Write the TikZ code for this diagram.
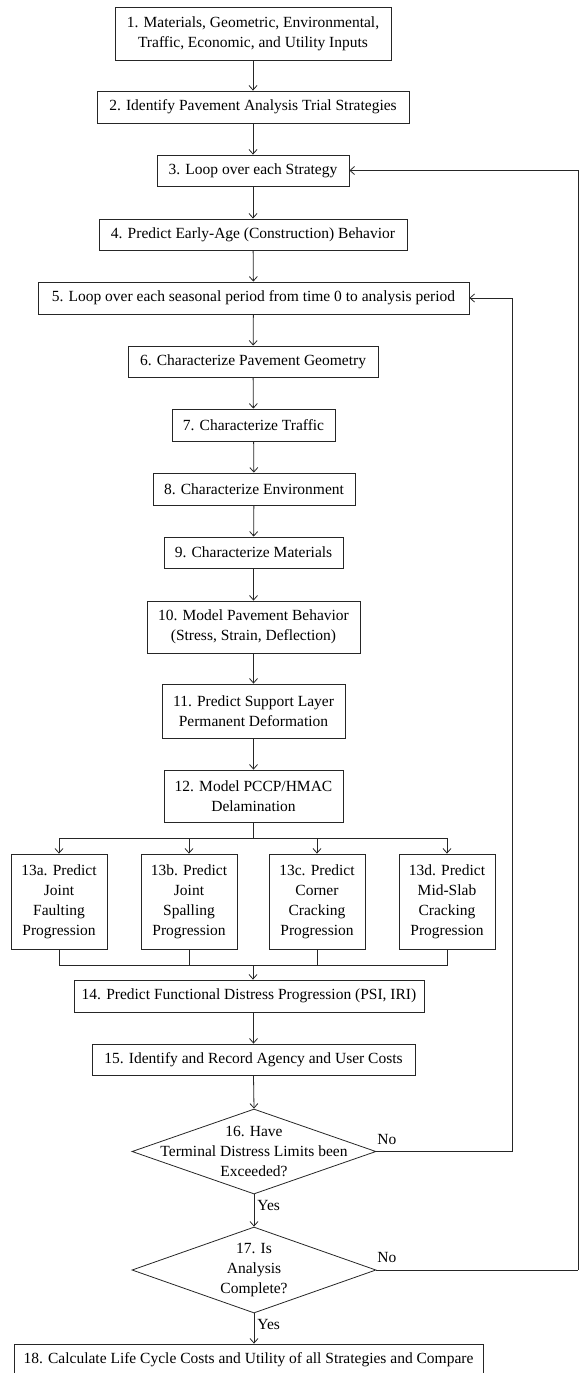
\documentclass[tikz,border=0pt]{standalone}
\usepackage{fontspec}
\setmainfont{Liberation Serif}
\usetikzlibrary{arrows.meta,shapes.geometric}
\begin{document}
\begin{tikzpicture}[x=1pt,y=-1pt,
  font=\fontsize{15.5}{20}\selectfont,
  line width=0.8pt,
  stepbox/.style={draw=black!85,line width=0.8pt,align=center,inner sep=0pt,minimum width=#1},
  stepbox/.default=100pt,
  dia/.style={draw=black!85,shape=diamond,inner sep=0pt,minimum width=244pt,minimum height=85pt},
  lbl/.style={inner sep=1pt,anchor=west},
  arr/.style={draw=black!85,-{Straight Barb[length=4.5pt,width=8pt]}},
  ln/.style={draw=black!85}]
\useasboundingbox (0,0) rectangle (579,1373);
\node[stepbox=276pt,minimum height=53pt] (b1) at (253,33.5) {1. Materials, Geometric, Environmental,\\Traffic, Economic, and Utility Inputs};
\node[stepbox=312pt,minimum height=32pt] (b2) at (253,107) {2. Identify Pavement Analysis Trial Strategies};
\node[stepbox=192pt,minimum height=31pt] (b3) at (253,170.5) {3. Loop over each Strategy};
\node[stepbox=308pt,minimum height=31pt] (b4) at (253,234.5) {4. Predict Early-Age (Construction) Behavior};
\node[stepbox=431pt,minimum height=32pt] (b5) at (253.5,298) {5. Loop over each seasonal period from time 0 to analysis period};
\node[stepbox=250pt,minimum height=31pt] (b6) at (253,361.5) {6. Characterize Pavement Geometry};
\node[stepbox=163pt,minimum height=32pt] (b7) at (253.5,425) {7. Characterize Traffic};
\node[stepbox=202pt,minimum height=32pt] (b8) at (254,489) {8. Characterize Environment};
\node[stepbox=179pt,minimum height=31pt] (b9) at (253.5,552.5) {9. Characterize Materials};
\node[stepbox=213pt,minimum height=52pt] (b10) at (253.5,627) {10. Model Pavement Behavior\\(Stress, Strain, Deflection)};
\node[stepbox=183pt,minimum height=54pt] (b11) at (253.5,711) {11. Predict Support Layer\\Permanent Deformation};
\node[stepbox=179pt,minimum height=52pt] (b12) at (253.5,796) {12. Model PCCP/HMAC\\Delamination};
\node[stepbox=96pt,minimum height=95pt] (t13a) at (59,901.5) {13a. Predict\\Joint\\Faulting\\Progression};
\node[stepbox=96pt,minimum height=95pt] (t13b) at (189,901.5) {13b. Predict\\Joint\\Spalling\\Progression};
\node[stepbox=96pt,minimum height=95pt] (t13c) at (317,901.5) {13c. Predict\\Corner\\Cracking\\Progression};
\node[stepbox=96pt,minimum height=95pt] (t13d) at (447,901.5) {13d. Predict\\Mid-Slab\\Cracking\\Progression};
\node[stepbox=350pt,minimum height=32pt] (b14) at (249,996) {14. Predict Functional Distress Progression (PSI, IRI)};
\node[stepbox=323pt,minimum height=31pt] (b15) at (253.5,1059.5) {15. Identify and Record Agency and User Costs};
\node[dia] (d16) at (254,1151.5) {};
\node[align=center,inner sep=0pt] (q16) at (d16.center) {16. Have\\Terminal Distress Limits been\\Exceeded?};
\node[dia,minimum height=86pt] (d17) at (254,1270) {};
\node[align=center,inner sep=0pt] (q17) at (d17.center) {17. Is\\Analysis\\Complete?};
\node[stepbox=469pt,minimum height=31pt] (b18) at (248.5,1359.5) {18. Calculate Life Cycle Costs and Utility of all Strategies and Compare};
% labels
\node[lbl] (no16) at (376,1139) {No};
\node[lbl] (no17) at (376,1257) {No};
\node[lbl] (yes16) at (256,1205) {Yes};
\node[lbl] (yes17) at (256,1324) {Yes};
% coordinates
\coordinate (br) at (253.5,838);
\coordinate (mg) at (253,965);
\coordinate (r1) at (512,1151.5);
\coordinate (r2) at (578,1270);
% main flow
\draw[arr] (b1) -- (b2);
\draw[arr] (b2) -- (b3);
\draw[arr] (b3) -- (b4);
\draw[arr] (b4) -- (b5);
\draw[arr] (b5) -- (b6);
\draw[arr] (b6) -- (b7);
\draw[arr] (b7) -- (b8);
\draw[arr] (b8) -- (b9);
\draw[arr] (b9) -- (b10);
\draw[arr] (b10) -- (b11);
\draw[arr] (b11) -- (b12);
\draw[ln] (b12.south) -- (br);
\draw[arr] (br) -| (t13a.north);
\draw[arr] (br) -| (t13b.north);
\draw[arr] (br) -| (t13c.north);
\draw[arr] (br) -| (t13d.north);
\draw[ln] (t13a.south) |- (mg);
\draw[ln] (t13b.south) |- (mg);
\draw[ln] (t13c.south) |- (mg);
\draw[ln] (t13d.south) |- (mg);
\draw[arr] (mg) -- (mg |- b14.north);
\draw[arr] (b14.south -| b15.north) -- (b15.north);
\draw[arr] (b15.south) -- (d16.north);
\draw[arr] (d16.south) -- (d17.north);
\draw[arr] (d17.south) -- (d17.south |- b18.north);
% loops
\draw[ln] (d16.east) -- (r1);
\draw[arr] (r1) |- (b5.east);
\draw[ln] (d17.east) -- (r2);
\draw[arr] (r2) |- (b3.east);
\end{tikzpicture}
\end{document}
